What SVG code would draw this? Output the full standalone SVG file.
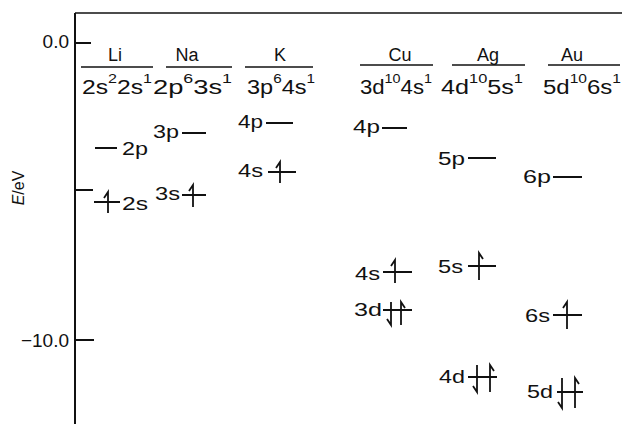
<svg xmlns="http://www.w3.org/2000/svg" width="622" height="424" viewBox="0 0 622 424">
<style>
text{font-family:"Liberation Sans",Arial,sans-serif;fill:#111}
.hd{font-size:18px;text-anchor:middle}
.cf{font-size:20px}
.sp{font-size:13px}
.lb{font-size:18px}
.ax{font-size:19px;text-anchor:end}
.yl{font-size:16px;text-anchor:middle}
.ln{stroke:#111;stroke-width:2;fill:none}
.ar{stroke:#111;stroke-width:1.8;fill:none;stroke-linejoin:miter}
.th{stroke:#111;stroke-width:1.4;fill:none}
</style>
<rect width="622" height="424" fill="#fff"/>
<g id="axis">
<path class="ln" d="M75 13V424"/>
<path class="th" d="M75 13H622"/>
<path class="ln" d="M75 43H91M75 190H93M75 340H94"/>
<text class="ax" x="69" y="48">0.0</text>
<text class="ax" x="69" y="347">−10.0</text>
<text class="yl" x="24" y="188" transform="rotate(-90 24 188)"><tspan font-style="italic">E</tspan>/eV</text>
</g>
<g id="head-Li"><text class="hd" x="115" y="61">Li</text><path class="th" d="M81 67H153"/>
<text class="cf" x="82" y="94" textLength="70" lengthAdjust="spacingAndGlyphs">2s<tspan class="sp" dy="-11">2</tspan><tspan dy="11">2s</tspan><tspan class="sp" dy="-11">1</tspan></text></g>
<g id="head-Na"><text class="hd" x="187" y="61">Na</text><path class="th" d="M166 67H232"/>
<text class="cf" x="153" y="94" textLength="79" lengthAdjust="spacingAndGlyphs">2p<tspan class="sp" dy="-11">6</tspan><tspan dy="11">3s</tspan><tspan class="sp" dy="-11">1</tspan></text></g>
<g id="head-K"><text class="hd" x="280" y="61">K</text><path class="th" d="M245 67H313"/>
<text class="cf" x="247" y="94" textLength="68" lengthAdjust="spacingAndGlyphs">3p<tspan class="sp" dy="-11">6</tspan><tspan dy="11">4s</tspan><tspan class="sp" dy="-11">1</tspan></text></g>
<g id="head-Cu"><text class="hd" x="400" y="61">Cu</text><path class="th" d="M360 65H433"/>
<text class="cf" x="360" y="94" textLength="72" lengthAdjust="spacingAndGlyphs">3d<tspan class="sp" dy="-11">10</tspan><tspan dy="11">4s</tspan><tspan class="sp" dy="-11">1</tspan></text></g>
<g id="head-Ag"><text class="hd" x="488" y="61">Ag</text><path class="th" d="M452 65H525"/>
<text class="cf" x="441" y="94" textLength="82" lengthAdjust="spacingAndGlyphs">4d<tspan class="sp" dy="-11">10</tspan><tspan dy="11">5s</tspan><tspan class="sp" dy="-11">1</tspan></text></g>
<g id="head-Au"><text class="hd" x="572" y="61">Au</text><path class="th" d="M548 65H620"/>
<text class="cf" x="543" y="94" textLength="78" lengthAdjust="spacingAndGlyphs">5d<tspan class="sp" dy="-11">10</tspan><tspan dy="11">6s</tspan><tspan class="sp" dy="-11">1</tspan></text></g>
<g id="Li-2p"><path class="ln" d="M95 148H117"/><text class="lb" x="122" y="155" textLength="26" lengthAdjust="spacingAndGlyphs">2p</text></g>
<g id="Na-3p"><text class="lb" x="153" y="138" textLength="26" lengthAdjust="spacingAndGlyphs">3p</text><path class="ln" d="M182 133H206"/></g>
<g id="Li-2s"><path class="ln" d="M94 202H120"/><path class="ar" d="M108 213V192l-4 6"/><text class="lb" x="122" y="210" textLength="26" lengthAdjust="spacingAndGlyphs">2s</text></g>
<g id="Na-3s"><text class="lb" x="155" y="200" textLength="25" lengthAdjust="spacingAndGlyphs">3s</text><path class="ln" d="M182 195H206"/><path class="ar" d="M193 207V185l-4 6"/></g>
<g id="K-4p"><text class="lb" x="238" y="128" textLength="25" lengthAdjust="spacingAndGlyphs">4p</text><path class="ln" d="M266 123H293"/></g>
<g id="K-4s"><text class="lb" x="238" y="177" textLength="25" lengthAdjust="spacingAndGlyphs">4s</text><path class="ln" d="M268 172H296"/><path class="ar" d="M280 183V162l-4 6"/></g>
<g id="Cu-4p"><text class="lb" x="353" y="133" textLength="27" lengthAdjust="spacingAndGlyphs">4p</text><path class="ln" d="M382 128H407"/></g>
<g id="Ag-5p"><text class="lb" x="438" y="165" textLength="27" lengthAdjust="spacingAndGlyphs">5p</text><path class="ln" d="M468 158H496"/></g>
<g id="Au-6p"><text class="lb" x="523" y="183" textLength="28" lengthAdjust="spacingAndGlyphs">6p</text><path class="ln" d="M553 177H582"/></g>
<g id="Cu-4s"><text class="lb" x="355" y="280" textLength="25" lengthAdjust="spacingAndGlyphs">4s</text><path class="ln" d="M383 272H412"/><path class="ar" d="M395 283V260l-4 6"/></g>
<g id="Ag-5s"><text class="lb" x="438" y="273" textLength="25" lengthAdjust="spacingAndGlyphs">5s</text><path class="ln" d="M468 266H496"/><path class="ar" d="M479 280V253l4 6"/></g>
<g id="Cu-3d"><text class="lb" x="354" y="316" textLength="28" lengthAdjust="spacingAndGlyphs">3d</text><path class="ln" d="M383 310H412"/><path class="ar" d="M391 302V325l-4 -6M401 325V302l4 6"/></g>
<g id="Au-6s"><text class="lb" x="525" y="322" textLength="25" lengthAdjust="spacingAndGlyphs">6s</text><path class="ln" d="M553 315H582"/><path class="ar" d="M567 329V302l-4 6"/></g>
<g id="Ag-4d"><text class="lb" x="439" y="383" textLength="26" lengthAdjust="spacingAndGlyphs">4d</text><path class="ln" d="M468 377H497"/><path class="ar" d="M477 365V392l-4 -6M490 392V365l4 6"/></g>
<g id="Au-5d"><text class="lb" x="527" y="398" textLength="26" lengthAdjust="spacingAndGlyphs">5d</text><path class="ln" d="M557 392H583"/><path class="ar" d="M562 378V408l-4 -6M575 408V378l4 6"/></g>
<g id="connectors"/>
</svg>
